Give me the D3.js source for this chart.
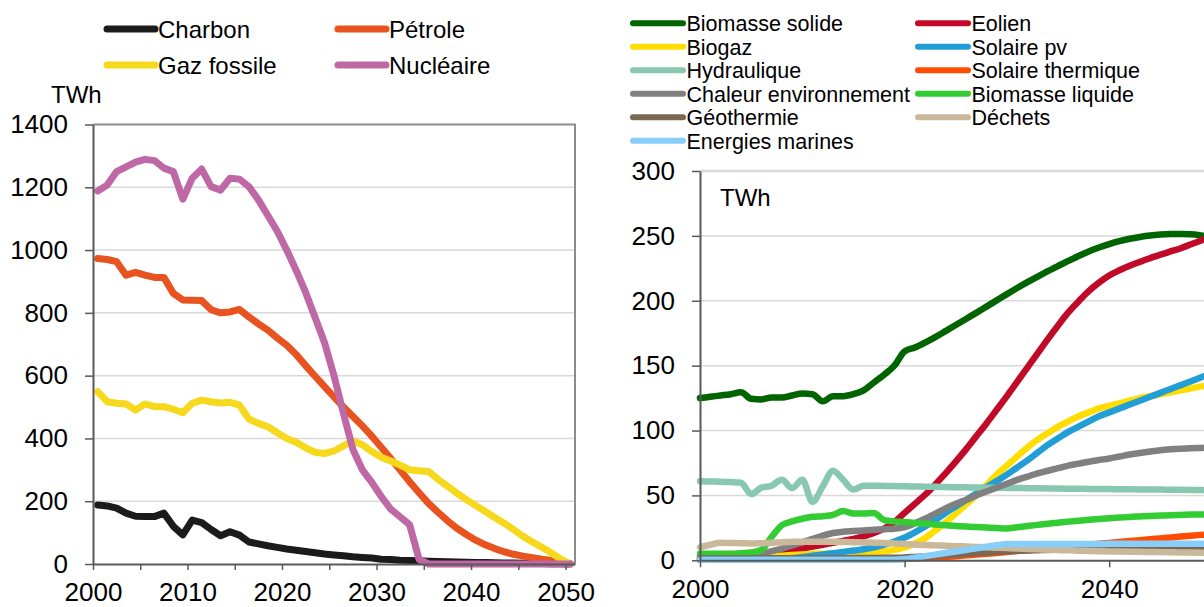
<!DOCTYPE html>
<html>
<head>
<meta charset="utf-8">
<script src="https://cdn.jsdelivr.net/npm/d3@7"></script>
<style>
  body { margin: 0; background: #fff; }
  svg { display: block; font-family: "Liberation Sans", Arial, sans-serif; }
</style>
</head>
<body>
<div id="chart"></div>
<script>
// years 2000..2050
const years = d3.range(2000, 2051);

// left chart (fossile + nucléaire), TWh
const charbon = [188,185,178,162,152,151,151,162,120,93,
                 140,132,110,90,103,92,70,64,58,53,
                 48,44,40,36,32,29,26,23,21,19,
                 15,14,12,11,10,9,8,7,6,5.5,
                 5,4.5,4,3.5,3,2.5,2,1.5,1,0.5,0];
const petrole = [973,970,963,920,929,920,913,913,862,841,
                 840,839,810,800,803,811,787,765,745,720,
                 697,667,632,598,565,532,500,470,440,407,
                 372,336,299,262,227,193,165,138,114,94,
                 76,61,49,39,31,25,20,15,11,7,1];
const gaz = [549,517,512,510,490,510,501,501,493,482,
             512,522,517,513,515,506,462,448,437,418,
             400,388,370,356,352,360,376,392,380,358,
             340,328,315,300,297,295,270,248,226,205,
             186,167,148,130,110,88,70,53,35,16,0];
const nucleaire = [1188,1207,1250,1265,1280,1289,1285,1261,1250,1162,
                   1229,1258,1202,1191,1229,1226,1202,1160,1110,1060,
                   1000,935,865,785,705,600,480,365,300,260,
                   215,175,150,125,15,0,0,0,0,0,
                   0,0,0,0,0,0,0,0,0,0,0];

// right chart (renouvelables), TWh
const biomasseSolide = [125,126,127,128,129.5,124.5,124,125.5,125.5,127,
                        128.5,128,122.5,126.5,126.5,128,131,137,143,150,
                        161,164,167.8,172,176.6,181.3,186,190.7,195.5,200.3,
                        205.1,209.8,214.3,218.6,222.8,226.8,230.7,234.5,238,241,
                        243.7,246,247.8,249.2,250.3,251,251.4,251.5,251.2,250.3,249.2];
const eolien = [0.5,0.5,0.5,0.5,1,1.5,2.5,4,6,8,
                9,10.5,12,13.5,15,16.5,18.5,21,24.5,29.5,
                36.5,43.5,50.5,58.5,67,76,85.5,95.5,105.5,116,
                126.5,137.5,148.5,159.5,170.5,181,191,199.5,207.5,214,
                219.5,223.5,227,230,232.8,235.5,238,240.5,243.5,246.5,249.5];
const biogaz = [1.5,1.5,1.5,2,2,2.5,2.5,3,3.5,4,
                4.5,5,5,5.5,5.5,6,6,6.5,7,8,
                10,13,17,23,29,36,43,50,58,66,
                73,80,87,93,98,103,107,111,114,117,
                119,121,123,125,126.5,128,129.5,131,132.5,134,135];
const solairePv = [0.5,0.5,0.5,0.5,0.5,0.5,0.5,0.8,1,1.5,
                   2.5,3.5,4.5,5.5,6.5,7.5,8.5,10,12,14.5,
                   17.5,21.5,26,31,36.5,41.5,46.5,51.5,56.5,61,
                   66,71.5,77,83,89,94,99,103,107,111,
                   114,117,120,123,126,129,132,135,138,141,144];
const hydraulique = [61,60.8,60.5,60.3,59.8,51,56,57.5,62,55.5,
                     62,45,57,69,62,54.5,57.5,57.5,57.3,57.2,
                     57,56.9,56.7,56.6,56.4,56.3,56.2,56.1,56,55.9,
                     55.8,55.7,55.6,55.5,55.4,55.3,55.2,55.1,55,54.9,
                     54.9,54.8,54.7,54.6,54.5,54.5,54.4,54.3,54.2,54.1,54];
const solaireThermique = [0.5,0.5,0.5,0.5,0.5,0.5,0.5,0.5,0.5,0.5,
                          0.8,0.8,0.8,0.8,0.8,0.8,0.8,0.8,0.8,1,
                          1.2,1.5,1.8,2.2,2.6,3.2,3.8,4.4,5,5.7,
                          6.4,7.1,7.8,8.5,9.2,9.9,10.6,11.3,12,12.7,
                          13.4,14.1,14.8,15.5,16.2,16.9,17.6,18.3,19,19.6,20.2];
const chaleurEnv = [3,3,3,3,3.5,4,5,7,9,11.5,
                    14,16.5,19,21,22,22.5,23,23.5,24,24.3,
                    25.5,28.5,32,36,40,43.5,46.5,50,53,56,
                    59,62,64.5,67,69,71,73,74.5,76,77.3,
                    78.5,80,81.5,82.7,83.8,84.8,85.5,86,86.4,86.6,86.8];
const biomasseLiquide = [5,5,5,5,5.5,6,8,18,27,30,
                         32,33.5,34,35,38,36,36,36.5,31,30,
                         29.5,28.8,28.2,27.6,27,26.5,26,25.6,25.2,24.8,
                         24.5,25.5,26.4,27.3,28.2,29,29.8,30.5,31.2,31.8,
                         32.4,32.9,33.4,33.8,34.2,34.5,34.8,35,35.2,35.3,35.4];
const geothermie = [1.5,1.5,1.5,1.5,1.5,1.5,1.5,1.5,1.5,1.5,
                    1.5,1.5,1.5,1.6,1.6,1.7,1.7,1.8,1.9,2,
                    2.2,2.6,3,3.5,4,4.5,5,5.5,6,6.5,
                    7,7.3,7.6,7.8,8,8.1,8.2,8.3,8.3,8.4,
                    8.4,8.4,8.5,8.5,8.5,8.5,8.5,8.5,8.5,8.5,8.5];
const dechets = [10,12,13.5,13.3,13.2,13,13.2,13.5,14,14.2,
                 14.3,14.3,14.2,14.2,14.1,14,13.8,13.6,13.4,13,
                 12.6,12.2,11.8,11.5,11.2,10.9,10.6,10.3,10,9.7,
                 9.4,9.1,8.8,8.5,8.2,7.9,7.7,7.4,7.2,7,
                 6.8,6.7,6.6,6.5,6.4,6.3,6.2,6.1,6,5.9,5.8];
const energiesMarines = [0.5,0.5,0.5,0.5,0.5,0.5,0.5,0.5,0.5,0.5,
                         0.5,0.5,0.5,0.5,0.5,0.5,0.5,0.5,0.5,0.5,
                         0.8,2,3.2,4.4,5.6,6.8,8,9.2,10.4,11.6,
                         12.5,12.5,12.5,12.5,12.6,12.6,12.6,12.6,12.6,12.6,
                         12.7,12.7,12.7,12.7,12.7,12.7,12.8,12.8,12.8,12.8,12.8];

const leftTicksY = [0,200,400,600,800,1000,1200,1400];
const rightTicksY = [0,50,100,150,200,250,300];
const leftTicksX = d3.range(2000, 2051, 5);
const rightTicksX = [2000, 2020, 2040];

const seriesL = [
  {name: "Charbon", color: "#1b1b1b", values: charbon},
  {name: "Pétrole", color: "#e8531f", values: petrole},
  {name: "Gaz fossile", color: "#f6d91d", values: gaz},
  {name: "Nucléaire", color: "#be69a5", values: nucleaire}
];
const seriesR = [
  {name: "Biomasse solide", color: "#006400", values: biomasseSolide},
  {name: "Eolien", color: "#c00a28", values: eolien},
  {name: "Biogaz", color: "#ffdd00", values: biogaz},
  {name: "Solaire pv", color: "#229ed6", values: solairePv},
  {name: "Hydraulique", color: "#88c8b0", values: hydraulique},
  {name: "Solaire thermique", color: "#ff4c00", values: solaireThermique},
  {name: "Chaleur environnement", color: "#808080", values: chaleurEnv},
  {name: "Biomasse liquide", color: "#33cc33", values: biomasseLiquide},
  {name: "Géothermie", color: "#7a6852", values: geothermie},
  {name: "Déchets", color: "#c9b99a", values: dechets},
  {name: "Energies marines", color: "#87cefa", values: energiesMarines}
];

const width = 1204;
const height = 607;

const svg = d3.select("#chart")
  .append("svg")
    .attr("width", width)
    .attr("height", height);

// ---------- left chart ----------
const xL = d3.scaleLinear().domain([2000, 2051]).range([93, 575]);
const yL = d3.scaleLinear().domain([0, 1400]).range([564, 124.5]);

const left = svg.append("g");

left.selectAll("line.grid")
  .data(leftTicksY.filter(d => d > 0 && d < 1400))
  .enter().append("line")
    .attr("class", "grid")
    .attr("x1", xL(2000)).attr("x2", xL(2051))
    .attr("y1", d => yL(d)).attr("y2", d => yL(d))
    .attr("stroke", "#d9d9d9").attr("stroke-width", 1.5);

// frame top + right
left.append("path")
  .attr("d", `M${xL(2000)},${yL(1400)}H${xL(2051)}V${yL(0)}`)
  .attr("fill", "none")
  .attr("stroke", "#8c8c8c")
  .attr("stroke-width", 2);

const lineL = d3.line()
  .x((d, i) => xL(years[i] + 0.5))
  .y(d => yL(d));

left.selectAll("path.serie")
  .data(seriesL)
  .enter().append("path")
    .attr("class", "serie")
    .attr("d", d => lineL(d.values))
    .attr("fill", "none")
    .attr("stroke", d => d.color)
    .attr("stroke-width", 7)
    .attr("stroke-linejoin", "round")
    .attr("stroke-linecap", "round");

const yAxisL = left.append("g")
  .attr("transform", `translate(${xL(2000)},0)`)
  .call(d3.axisLeft(yL).tickValues(leftTicksY).tickSize(8).tickSizeOuter(0).tickPadding(17)
    .tickFormat(d3.format("d")));

const xAxisL = left.append("g")
  .attr("transform", `translate(0,${yL(0)})`)
  .call(d3.axisBottom(xL).tickValues(leftTicksX).tickSize(6).tickSizeOuter(0).tickPadding(13)
    .tickFormat(d => d % 10 === 0 ? d : ""));

left.append("text")
  .text("TWh")
  .attr("x", 51)
  .attr("y", 103)
  .attr("font-size", 24);

// legend left
const legL = left.selectAll("g.leg")
  .data(seriesL)
  .enter().append("g")
    .attr("class", "leg")
    .attr("transform", (d, i) => `translate(${i % 2 === 0 ? 107 : 338},${i < 2 ? 29 : 65})`);
legL.append("line")
  .attr("x1", 0).attr("x2", 48)
  .attr("stroke", d => d.color)
  .attr("stroke-width", 7)
  .attr("stroke-linecap", "round");
legL.append("text")
  .text(d => d.name)
  .attr("x", 51)
  .attr("y", 8.5)
  .attr("font-size", 24);

// ---------- right chart ----------
const xR = d3.scaleLinear().domain([2000, 2050]).range([700, 1211.5]);
const yR = d3.scaleLinear().domain([0, 300]).range([560.3, 171]);

const right = svg.append("g");

right.selectAll("line.grid")
  .data(rightTicksY.filter(d => d > 0))
  .enter().append("line")
    .attr("class", "grid")
    .attr("x1", xR(2000)).attr("x2", width)
    .attr("y1", d => yR(d)).attr("y2", d => yR(d))
    .attr("stroke", "#d9d9d9")
    .attr("stroke-width", d => d === 300 ? 2.5 : 1.5);

const lineR = d3.line()
  .x((d, i) => xR(years[i]))
  .y(d => yR(d))
  .curve(d3.curveMonotoneX);

right.selectAll("path.serie")
  .data(seriesR)
  .enter().append("path")
    .attr("class", "serie")
    .attr("d", d => lineR(d.values))
    .attr("fill", "none")
    .attr("stroke", d => d.color)
    .attr("stroke-width", 6.5)
    .attr("stroke-linejoin", "round")
    .attr("stroke-linecap", "round");

const yAxisR = right.append("g")
  .attr("transform", `translate(${xR(2000)},0)`)
  .call(d3.axisLeft(yR).tickValues(rightTicksY).tickSize(8).tickSizeOuter(0).tickPadding(17));

const xAxisR = right.append("g")
  .attr("transform", `translate(0,${yR(0)})`)
  .call(d3.axisBottom(xR).tickValues(rightTicksX).tickSize(7).tickSizeOuter(0).tickPadding(12)
    .tickFormat(d3.format("d")));

right.append("text")
  .text("TWh")
  .attr("x", 720)
  .attr("y", 205.5)
  .attr("font-size", 24);

// legend right
const legR = right.selectAll("g.leg")
  .data(seriesR)
  .enter().append("g")
    .attr("class", "leg")
    .attr("transform", (d, i) => `translate(${i % 2 === 0 ? 633 : 918},${23.3 + Math.floor(i / 2) * 23.47})`);
legR.append("line")
  .attr("x1", 0).attr("x2", 50)
  .attr("stroke", d => d.color)
  .attr("stroke-width", 6)
  .attr("stroke-linecap", "round");
legR.append("text")
  .text(d => d.name)
  .attr("x", 53.5)
  .attr("y", 8)
  .attr("font-size", 21.5);

// axis styling
svg.selectAll(".domain").attr("stroke", "#595959").attr("stroke-width", 2);
svg.selectAll(".tick line").attr("stroke", "#595959").attr("stroke-width", 1.5);
svg.selectAll(".tick text")
  .attr("fill", "#000")
  .attr("font-size", 26)
  .attr("font-family", "Liberation Sans, Arial, sans-serif");
</script>
</body>
</html>
